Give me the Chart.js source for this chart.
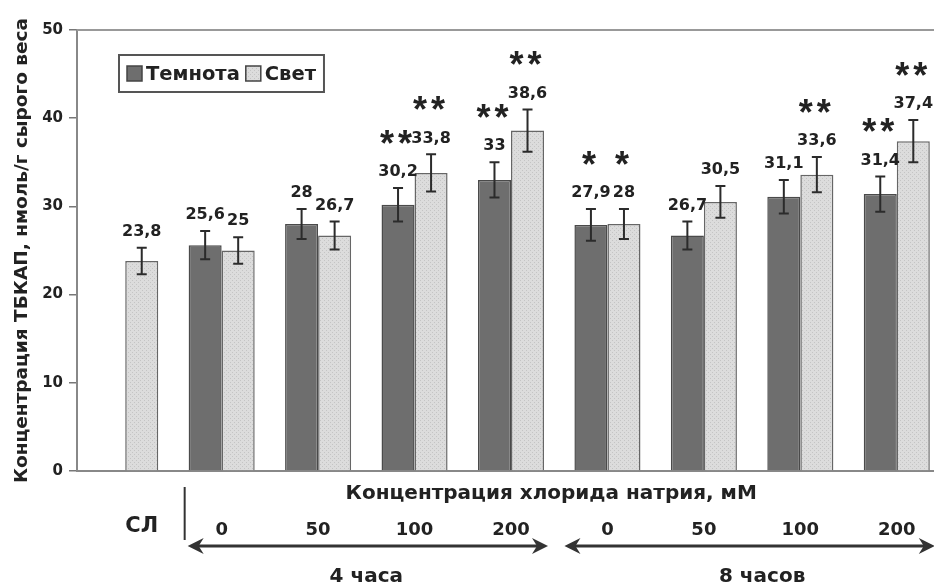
<!DOCTYPE html>
<html>
<head>
<meta charset="utf-8">
<script src="https://cdn.jsdelivr.net/npm/chart.js@4"></script>
<style>
html, body { margin: 0; padding: 0; background: #fff; overflow: hidden; }
#wrap { width: 950px; height: 585px; }
</style>
</head>
<body>
<div id="wrap"><canvas id="chart" width="950" height="585"></canvas></div>
<script>
// data
const categories = ['СЛ', '0', '50', '100', '200', '0', '50', '100', '200'];
const darkValues = [null, 25.6, 28, 30.2, 33, 27.9, 26.7, 31.1, 31.4];
const lightValues = [23.8, 25, 26.7, 33.8, 38.6, 28, 30.5, 33.6, 37.4];
const darkErrors = [null, 1.6, 1.7, 1.9, 2.0, 1.8, 1.6, 1.9, 2.0];
const lightErrors = [1.5, 1.5, 1.6, 2.1, 2.4, 1.7, 1.8, 2.0, 2.4];
const darkStars = ['', '', '', '**', '**', '*', '', '', '**'];
const lightStars = ['', '', '', '**', '**', '*', '', '**', '**'];
const yTicks = [0, 10, 20, 30, 40, 50];

const FONT = "'DejaVu Sans', Verdana, sans-serif";
const STAR_FONT = "bold 36px 'Liberation Sans', Arial, sans-serif";
const TEXT = '#222';

// light grey dotted fill like the printed figure
function dotPattern() {
    const c = document.createElement('canvas');
    c.width = 4; c.height = 4;
    const g = c.getContext('2d');
    g.fillStyle = '#dcdcdc';
    g.fillRect(0, 0, 4, 4);
    g.fillStyle = '#c4c4c4';
    g.fillRect(0, 0, 1, 1);
    g.fillRect(2, 2, 1, 1);
    return g.createPattern(c, 'repeat');
}
const lightFill = dotPattern();

function arrow(ctx, x1, x2, y) {
    ctx.save();
    ctx.strokeStyle = '#333';
    ctx.fillStyle = '#333';
    ctx.lineWidth = 3;
    ctx.beginPath();
    ctx.moveTo(x1 + 10, y);
    ctx.lineTo(x2 - 10, y);
    ctx.stroke();
    ctx.beginPath();
    ctx.moveTo(x1, y); ctx.lineTo(x1 + 16, y - 8); ctx.lineTo(x1 + 11, y); ctx.lineTo(x1 + 16, y + 8);
    ctx.closePath();
    ctx.fill();
    ctx.beginPath();
    ctx.moveTo(x2, y); ctx.lineTo(x2 - 16, y - 8); ctx.lineTo(x2 - 11, y); ctx.lineTo(x2 - 16, y + 8);
    ctx.closePath();
    ctx.fill();
    ctx.restore();
}

const decorations = {
    id: 'decorations',
    afterDatasetsDraw(chart) {
        const ctx = chart.ctx;
        const y = chart.scales.y;
        const extra = [[darkErrors, darkStars], [lightErrors, lightStars]];
        chart.data.datasets.forEach((ds, di) => {
            const meta = chart.getDatasetMeta(di);
            const errs = extra[di][0];
            const stars = extra[di][1];
            meta.data.forEach((bar, i) => {
                const v = ds.data[i];
                if (v == null) return;
                const top = y.getPixelForValue(v + errs[i]);
                const bot = y.getPixelForValue(v - errs[i]);
                ctx.save();
                ctx.strokeStyle = '#2b2b2b';
                ctx.lineWidth = 2;
                ctx.beginPath();
                ctx.moveTo(bar.x, top); ctx.lineTo(bar.x, bot);
                ctx.moveTo(bar.x - 5, top); ctx.lineTo(bar.x + 5, top);
                ctx.moveTo(bar.x - 5, bot); ctx.lineTo(bar.x + 5, bot);
                ctx.stroke();
                ctx.fillStyle = TEXT;
                ctx.textAlign = 'center';
                ctx.textBaseline = 'middle';
                ctx.font = 'bold 16px ' + FONT;
                const ly = top - 16;
                ctx.fillText(String(v).replace('.', ','), bar.x, ly);
                if (stars[i]) {
                    // each asterisk drawn on its own, a bit apart
                    ctx.font = STAR_FONT;
                    ctx.textBaseline = 'alphabetic';
                    const n = stars[i].length;
                    for (let k = 0; k < n; k++) {
                        const sx = bar.x - 2 + (k - (n - 1) / 2) * 18;
                        ctx.fillText('*', sx, ly - 37 + 21);
                    }
                }
                ctx.restore();
            });
        });
    },
    afterDraw(chart) {
        const ctx = chart.ctx;
        const area = chart.chartArea;
        const xs = chart.scales.x;
        const px = i => xs.getPixelForValue(i);
        ctx.save();

        // top frame line
        ctx.strokeStyle = '#999';
        ctx.lineWidth = 2;
        ctx.beginPath();
        ctx.moveTo(area.left, area.top);
        ctx.lineTo(area.right, area.top);
        ctx.stroke();

        // legend box
        ctx.font = 'bold 19.5px ' + FONT;
        ctx.textBaseline = 'middle';
        ctx.textAlign = 'left';
        const lx = area.left + 42, ly = area.top + 25, lh = 37;
        let cx = lx + 8;
        chart.data.datasets.forEach(ds => {
            ctx.fillStyle = ds.backgroundColor;
            ctx.fillRect(cx, ly + 11, 15, 15);
            ctx.strokeStyle = '#444';
            ctx.lineWidth = 1.5;
            ctx.strokeRect(cx, ly + 11, 15, 15);
            ctx.fillStyle = TEXT;
            ctx.fillText(ds.label, cx + 19, ly + lh / 2 + 1);
            cx += 19 + ctx.measureText(ds.label).width + 6;
        });
        ctx.strokeStyle = '#555';
        ctx.lineWidth = 2;
        ctx.strokeRect(lx, ly, cx - lx + 2, lh);

        // under the axis
        ctx.fillStyle = TEXT;
        ctx.textAlign = 'center';
        ctx.font = 'bold 20px ' + FONT;
        ctx.fillText('Концентрация хлорида натрия, мМ', (px(1) + px(8)) / 2 - 8, area.bottom + 23);

        const slBar = chart.getDatasetMeta(1).data[0];
        ctx.font = 'bold 21px ' + FONT;
        ctx.fillText(categories[0], slBar.x, area.bottom + 56);

        ctx.strokeStyle = '#333';
        ctx.lineWidth = 2;
        const sx = px(1) - 37;
        ctx.beginPath();
        ctx.moveTo(sx, area.bottom + 16);
        ctx.lineTo(sx, area.bottom + 69);
        ctx.stroke();

        const ay = area.bottom + 75;
        arrow(ctx, px(1) - 34, px(4) + 37, ay);
        arrow(ctx, px(5) - 43, px(8) + 38, ay);

        ctx.font = 'bold 20px ' + FONT;
        ctx.fillText('4 часа', (px(1) + px(4)) / 2, area.bottom + 106);
        ctx.fillText('8 часов', (px(5) + px(8)) / 2 + 10, area.bottom + 106);
        ctx.restore();
    }
};

const chart = new Chart(document.getElementById('chart'), {
    type: 'bar',
    data: {
        labels: categories,
        datasets: [{
            label: 'Темнота',
            data: darkValues,
            backgroundColor: '#6e6e6e',
            borderColor: '#4a4a4a',
            borderWidth: 1.5
        }, {
            label: 'Свет',
            data: lightValues,
            backgroundColor: lightFill,
            borderColor: '#666',
            borderWidth: 1.5
        }]
    },
    plugins: [decorations],
    options: {
        responsive: false,
        animation: false,
        devicePixelRatio: 1,
        layout: {
            padding: { top: 30, right: 5, bottom: 43, left: 0 }
        },
        datasets: {
            bar: { categoryPercentage: 0.685, barPercentage: 1 }
        },
        scales: {
            x: {
                afterFit: scale => {
                    scale.height = 71;
                    scale.paddingLeft = 0;
                    scale.paddingRight = 0;
                },
                grid: { display: false, drawTicks: false },
                border: { display: true, color: '#888', width: 2 },
                ticks: {
                    padding: 49,
                    color: TEXT,
                    font: { family: FONT, size: 18, weight: 'bold' },
                    callback: (v, i) => i === 0 ? '' : categories[i]
                }
            },
            y: {
                min: yTicks[0],
                max: yTicks[yTicks.length - 1],
                afterFit: scale => { scale.width = 77; },
                grid: { display: true, drawOnChartArea: false, drawTicks: true, tickLength: 8, color: '#777', lineWidth: 1.5 },
                border: { display: true, color: '#888', width: 2 },
                ticks: {
                    stepSize: yTicks[1] - yTicks[0],
                    padding: 6,
                    color: TEXT,
                    font: { family: FONT, size: 15, weight: 'bold' }
                },
                title: {
                    display: true,
                    text: 'Концентрация ТБКАП, нмоль/г сырого веса',
                    color: TEXT,
                    font: { family: FONT, size: 18.5, weight: 'bold' },
                    padding: { top: 11, bottom: 0 }
                }
            }
        },
        plugins: {
            legend: { display: false },
            tooltip: { enabled: false }
        }
    }
});
</script>
</body>
</html>
